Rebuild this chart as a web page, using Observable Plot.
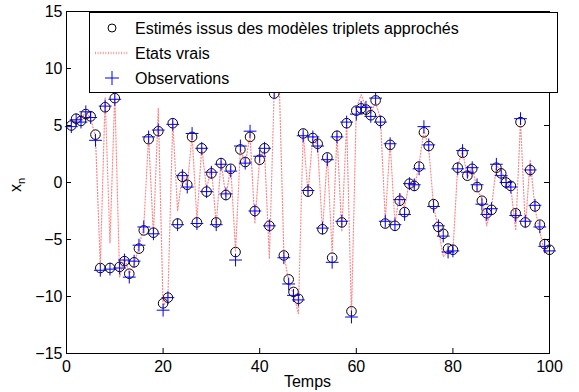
<!DOCTYPE html>
<html><head><meta charset="utf-8">
<script src="https://cdn.jsdelivr.net/npm/d3@7"></script>
<script src="https://cdn.jsdelivr.net/npm/@observablehq/plot@0.6"></script>
<style>body{margin:0;background:#fff;} #chart{width:579px;height:392px;}</style>
</head><body><div id="chart"></div>
<script>
// Time index 1..100
const temps = Array.from({length: 100}, (_, i) => i + 1);
const est = [5.0,5.6,5.4,6.0,5.8,4.2,-7.5,6.6,-7.5,7.4,
 -7.4,-6.9,-8.0,-7.0,-5.8,-4.2,3.8,-4.4,4.5,-10.6,
 -10.1,5.2,-3.6,0.5,-0.2,4.0,-3.5,3.0,-0.8,0.8,
 -3.5,1.7,-1.1,1.2,-6.1,2.9,1.8,4.0,-2.5,2.0,
 3.0,-3.8,7.8,9.5,-6.4,-8.5,-9.6,-10.2,4.3,-0.8,
 3.9,3.4,-4.1,2.2,-6.6,4.1,-3.5,5.2,-11.3,6.3,
 6.5,6.4,5.9,7.2,5.4,-3.6,3.3,-3.8,-1.6,-2.6,
 -0.1,-0.3,1.4,4.4,3.2,-1.9,-3.9,-4.5,-5.8,-5.9,
 1.3,2.6,0.6,1.2,-0.4,-1.6,-2.7,-2.4,1.3,0.8,
 0.0,-0.3,-2.7,5.3,-3.5,1.1,-2.1,-3.7,-5.4,-5.9];
const truth = [5.2,5.5,5.6,6.2,5.6,4.0,-7.3,7.5,-5.3,7.8,
 -8.3,-6.6,-8.0,-7.2,-5.6,-3.8,4.0,-4.6,6.5,-10.9,
 -10.0,5.4,-2.5,0.7,-0.4,4.2,-3.3,3.1,-0.6,1.4,
 -3.7,1.9,-1.3,1.4,-6.0,3.0,1.6,4.2,-3.6,2.2,
 2.8,-6.7,8.0,9.5,-6.2,-8.7,-9.8,-11.5,4.4,-1.0,
 4.1,3.2,-4.3,2.4,-6.2,4.3,-4.3,5.3,-11.6,6.5,
 7.7,6.6,6.1,7.0,5.6,-3.3,3.5,-3.6,-0.9,-2.2,
 0.1,-0.5,1.6,4.6,3.0,-2.1,-4.1,-6.5,-6.0,-6.1,
 1.5,2.8,0.4,1.4,-0.6,-1.4,-3.8,-2.2,1.5,1.0,
 0.2,-0.5,-4.2,5.4,-4.0,2.0,-2.3,-4.3,-6.2,-6.0];
const obs = [4.9,5.5,5.3,6.2,5.7,3.7,-7.7,6.7,-7.6,7.3,
 -7.5,-6.8,-8.3,-6.9,-5.5,-3.9,4.0,-4.5,4.6,-11.2,
 -10.1,5.1,-3.7,0.6,-0.4,4.3,-3.6,3.0,-0.8,0.9,
 -3.7,1.6,-1.0,1.0,-6.8,3.2,1.7,4.5,-2.5,2.3,
 3.0,-3.8,7.9,9.5,-6.6,-8.9,-9.9,-10.3,4.1,-0.7,
 4.0,3.2,-4.0,2.0,-7.0,4.0,-3.4,5.3,-11.8,6.0,
 6.6,6.6,5.8,7.4,5.3,-3.4,3.4,-3.7,-1.5,-2.8,
 -0.1,-0.2,1.2,4.9,3.3,-2.1,-3.8,-4.7,-6.1,-6.0,
 1.2,2.8,0.9,1.3,-0.2,-1.9,-2.8,-2.3,1.6,0.6,
 0.0,-0.4,-2.9,5.6,-3.4,1.1,-2.0,-3.9,-5.6,-6.0];
const xTicks = [0,20,40,60,80,100];
const yTicks = [-15,-10,-5,0,5,10,15];
const legendLabels = ["Estimés issus des modèles triplets approchés", "Etats vrais", "Observations"];
const xLabel = "Temps";

const W = 579, H = 392;
const mL = 66, mR = 30, mT = 11, mB = 39;
const tickLen = 5;
const xDom = [0, 100], yDom = [-15, 15];
const kx = (xDom[1] - xDom[0]) / (W - mL - mR);
const ky = (yDom[1] - yDom[0]) / (H - mT - mB);
const data = temps.map((t, i) => ({t, est: est[i], truth: truth[i], obs: obs[i]}));
const font = "'Liberation Sans', Arial, Helvetica, sans-serif";
const fs = 16;
const redDash = {stroke: "#ff2020", width: 1.2, dash: "1,2", opacity: 0.55};

const plot = Plot.plot({
  width: W, height: H,
  marginLeft: mL, marginRight: mR, marginTop: mT, marginBottom: mB,
  x: {domain: xDom},
  y: {domain: yDom},
  style: {fontFamily: font, fontSize: fs + "px", background: "white", color: "black", overflow: "visible"},
  marks: [
    Plot.dot(data, {x: "t", y: "est", r: 4.8, stroke: "black", strokeWidth: 1, symbol: "circle"}),
    Plot.line(data, {x: "t", y: "truth", stroke: redDash.stroke, strokeWidth: redDash.width, strokeDasharray: redDash.dash, strokeOpacity: redDash.opacity}),
    Plot.dot(data, {x: "t", y: "obs", r: 4.2, stroke: "#0000ff", strokeWidth: 1, symbol: "plus"}),
    Plot.ruleX(xTicks, {y1: yDom[0], y2: yDom[0] + tickLen * ky, stroke: "black"}),
    Plot.ruleX(xTicks, {y1: yDom[1], y2: yDom[1] - tickLen * ky, stroke: "black"}),
    Plot.ruleY(yTicks, {x1: xDom[0], x2: xDom[0] + tickLen * kx, stroke: "black"}),
    Plot.ruleY(yTicks, {x1: xDom[1], x2: xDom[1] - tickLen * kx, stroke: "black"}),
    Plot.frame({stroke: "black"}),
    Plot.axisX(xTicks, {tickSize: 0, tickPadding: 7, label: null}),
    Plot.axisY(yTicks, {tickSize: 0, tickPadding: 4, label: null})
  ]
});
document.getElementById("chart").appendChild(plot);

const svg = d3.select(plot);
// axis labels
svg.append("text").attr("x", 307.5).attr("y", 387).attr("text-anchor", "middle")
  .attr("font-family", font).attr("font-size", fs).attr("fill", "black").text(xLabel);
const yl = svg.append("text").attr("transform", "translate(21,185) rotate(-90)")
  .attr("text-anchor", "middle").attr("font-family", font).attr("font-size", fs).attr("fill", "black");
yl.append("tspan").text("x");
yl.append("tspan").attr("font-size", 11).attr("dy", 4).text("n");

// legend
const lg = svg.append("g").attr("text-anchor", "start");
lg.append("rect").attr("x", 89.5).attr("y", 12.5).attr("width", 468).attr("height", 80)
  .attr("fill", "white").attr("stroke", "black");
const rows = [28, 53, 78];
lg.append("circle").attr("cx", 112).attr("cy", rows[0]).attr("r", 4).attr("fill", "none").attr("stroke", "black");
lg.append("line").attr("x1", 95).attr("x2", 128).attr("y1", rows[1]).attr("y2", rows[1])
  .attr("stroke", redDash.stroke).attr("stroke-width", 2.5).attr("stroke-dasharray", "1,1.6").attr("stroke-opacity", 0.45);
lg.append("path").attr("d", `M105,${rows[2]}H119M112,${rows[2]-7}V${rows[2]+7}`).attr("stroke", "#0000ff").attr("fill", "none");
legendLabels.forEach((s, i) => {
  lg.append("text").attr("x", 135).attr("y", rows[i]).attr("dy", "0.35em").attr("text-anchor", "start")
    .attr("font-family", font).attr("font-size", fs).attr("fill", "black").text(s);
});
</script>
</body></html>
